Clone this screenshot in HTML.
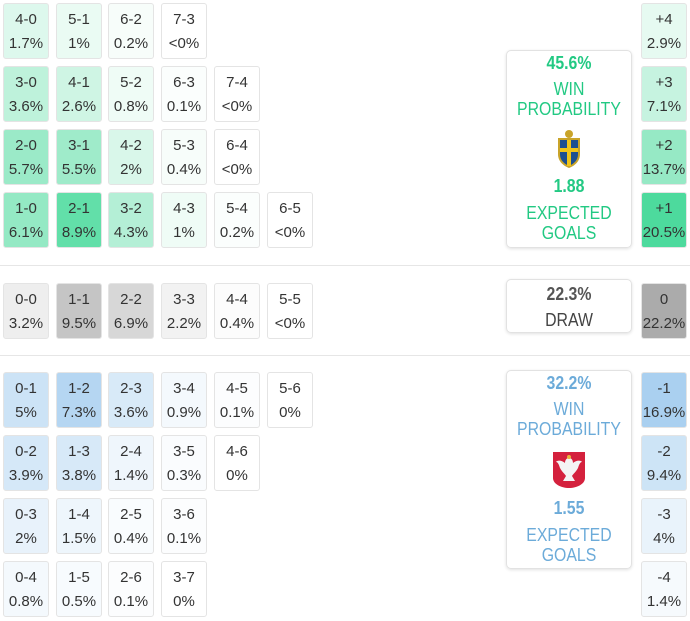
<!DOCTYPE html>
<html><head><meta charset="utf-8"><style>
body{margin:0;width:690px;height:621px;background:#fff;position:relative;overflow:hidden;font-family:"Liberation Sans",sans-serif;}
.c{position:absolute;width:46px;height:56px;border:1px solid #e4e4e4;border-radius:3px;box-sizing:border-box;text-align:center;color:#333;font-size:15px;line-height:24px;padding-top:4px;}
.g{background-color:rgba(46,212,140,var(--a));}
.k{background-color:rgba(150,150,150,var(--a));}
.b{background-color:rgba(100,170,228,var(--a));}
.box{position:absolute;left:506px;width:126px;border:1px solid #e2e2e2;border-radius:5px;box-shadow:0 1px 3px rgba(0,0,0,.12);box-sizing:border-box;text-align:center;font-size:18px;line-height:20px;}
.box div{transform:scaleX(.88);}
.hr{position:absolute;left:0;width:690px;height:1px;background:#e6e6e6;}
.big{font-weight:bold;font-size:18px;}
</style></head><body>
<div class="hr" style="top:265px"></div>
<div class="hr" style="top:355px"></div>

<div class="c g" style="left:3px;top:3px;--a:.16">4-0<br>1.7%</div>
<div class="c g" style="left:56px;top:3px;--a:.1">5-1<br>1%</div>
<div class="c g" style="left:108px;top:3px;--a:.04">6-2<br>0.2%</div>
<div class="c g" style="left:161px;top:3px;--a:.0">7-3<br>&lt;0%</div>

<div class="c g" style="left:3px;top:66px;--a:.31">3-0<br>3.6%</div>
<div class="c g" style="left:56px;top:66px;--a:.23">4-1<br>2.6%</div>
<div class="c g" style="left:108px;top:66px;--a:.08">5-2<br>0.8%</div>
<div class="c g" style="left:161px;top:66px;--a:.02">6-3<br>0.1%</div>
<div class="c g" style="left:214px;top:66px;--a:0">7-4<br>&lt;0%</div>

<div class="c g" style="left:3px;top:129px;--a:.48">2-0<br>5.7%</div>
<div class="c g" style="left:56px;top:129px;--a:.46">3-1<br>5.5%</div>
<div class="c g" style="left:108px;top:129px;--a:.18">4-2<br>2%</div>
<div class="c g" style="left:161px;top:129px;--a:.04">5-3<br>0.4%</div>
<div class="c g" style="left:214px;top:129px;--a:0">6-4<br>&lt;0%</div>

<div class="c g" style="left:3px;top:192px;--a:.51">1-0<br>6.1%</div>
<div class="c g" style="left:56px;top:192px;--a:.75">2-1<br>8.9%</div>
<div class="c g" style="left:108px;top:192px;--a:.36">3-2<br>4.3%</div>
<div class="c g" style="left:161px;top:192px;--a:.08">4-3<br>1%</div>
<div class="c g" style="left:214px;top:192px;--a:.02">5-4<br>0.2%</div>
<div class="c g" style="left:267px;top:192px;--a:0">6-5<br>&lt;0%</div>

<div class="c k" style="left:3px;top:283px;--a:.16">0-0<br>3.2%</div>
<div class="c k" style="left:56px;top:283px;--a:.55">1-1<br>9.5%</div>
<div class="c k" style="left:108px;top:283px;--a:.38">2-2<br>6.9%</div>
<div class="c k" style="left:161px;top:283px;--a:.12">3-3<br>2.2%</div>
<div class="c k" style="left:214px;top:283px;--a:.03">4-4<br>0.4%</div>
<div class="c k" style="left:267px;top:283px;--a:0">5-5<br>&lt;0%</div>

<div class="c b" style="left:3px;top:372px;--a:.33">0-1<br>5%</div>
<div class="c b" style="left:56px;top:372px;--a:.48">1-2<br>7.3%</div>
<div class="c b" style="left:108px;top:372px;--a:.25">2-3<br>3.6%</div>
<div class="c b" style="left:161px;top:372px;--a:.07">3-4<br>0.9%</div>
<div class="c b" style="left:214px;top:372px;--a:.02">4-5<br>0.1%</div>
<div class="c b" style="left:267px;top:372px;--a:0">5-6<br>0%</div>

<div class="c b" style="left:3px;top:435px;--a:.27">0-2<br>3.9%</div>
<div class="c b" style="left:56px;top:435px;--a:.26">1-3<br>3.8%</div>
<div class="c b" style="left:108px;top:435px;--a:.1">2-4<br>1.4%</div>
<div class="c b" style="left:161px;top:435px;--a:.03">3-5<br>0.3%</div>
<div class="c b" style="left:214px;top:435px;--a:0">4-6<br>0%</div>

<div class="c b" style="left:3px;top:498px;--a:.15">0-3<br>2%</div>
<div class="c b" style="left:56px;top:498px;--a:.11">1-4<br>1.5%</div>
<div class="c b" style="left:108px;top:498px;--a:.04">2-5<br>0.4%</div>
<div class="c b" style="left:161px;top:498px;--a:.02">3-6<br>0.1%</div>

<div class="c b" style="left:3px;top:561px;--a:.07">0-4<br>0.8%</div>
<div class="c b" style="left:56px;top:561px;--a:.05">1-5<br>0.5%</div>
<div class="c b" style="left:108px;top:561px;--a:.02">2-6<br>0.1%</div>
<div class="c b" style="left:161px;top:561px;--a:0">3-7<br>0%</div>

<div class="c g" style="left:641px;top:3px;--a:.12">+4<br>2.9%</div>
<div class="c g" style="left:641px;top:66px;--a:.27">+3<br>7.1%</div>
<div class="c g" style="left:641px;top:129px;--a:.5">+2<br>13.7%</div>
<div class="c g" style="left:641px;top:192px;--a:.85">+1<br>20.5%</div>
<div class="c k" style="left:641px;top:283px;--a:.8">0<br>22.2%</div>
<div class="c b" style="left:641px;top:372px;--a:.55">-1<br>16.9%</div>
<div class="c b" style="left:641px;top:435px;--a:.32">-2<br>9.4%</div>
<div class="c b" style="left:641px;top:498px;--a:.14">-3<br>4%</div>
<div class="c b" style="left:641px;top:561px;--a:.06">-4<br>1.4%</div>

<div class="box" style="top:50px;height:198px;color:#22c983;">
<div class="big" style="margin-top:2px">45.6%</div>
<div style="margin-top:6px">WIN<br>PROBABILITY</div>
<svg width="26" height="40" viewBox="0 0 26 40" style="display:block;margin:10px auto 0"><circle cx="13" cy="5" r="4" fill="#c9a42a"/><path d="M2 9h22v16c0 8-6 12-11 14C8 37 2 33 2 25z" fill="#c9a42a"/><path d="M4 11h18v14c0 7-5 10-9 12-4-2-9-5-9-12z" fill="#1d4f91"/><rect x="11" y="11" width="4" height="26" fill="#f0c419"/><rect x="4" y="19" width="18" height="4" fill="#f0c419"/></svg>
<div class="big" style="margin-top:7px">1.88</div>
<div style="margin-top:7px">EXPECTED<br>GOALS</div>
</div>

<div class="box" style="top:279px;height:54px;color:#444;">
<div class="big" style="margin-top:4px;color:#555">22.3%</div>
<div style="margin-top:6px">DRAW</div>
</div>

<div class="box" style="top:370px;height:199px;color:#6cabd9;">
<div class="big" style="margin-top:2px">32.2%</div>
<div style="margin-top:6px">WIN<br>PROBABILITY</div>
<svg width="34" height="38" viewBox="0 0 34 38" style="display:block;margin:12px auto 0"><path d="M1 1h32v26c0 6-8 10-16 10S1 33 1 27z" fill="#d4213d"/><path d="M17 7c-3 0-4 3-4 5-3-3-8-3-9-1 2 0 3 3 4 6 2 4 5 6 6 8l-3 5h12l-3-5c1-2 4-4 6-8 1-3 2-6 4-6-1-2-6-2-9 1 0-2-1-5-4-5z" fill="#f4f4f4"/><circle cx="17" cy="6" r="2" fill="#e8b53a"/></svg>
<div class="big" style="margin-top:9px">1.55</div>
<div style="margin-top:7px">EXPECTED<br>GOALS</div>
</div>
</body></html>
